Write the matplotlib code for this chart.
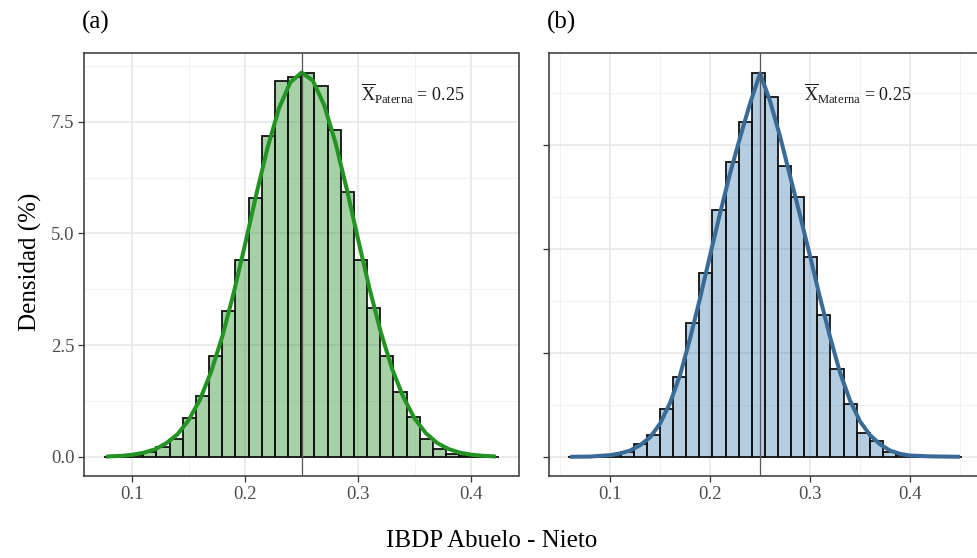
import numpy as np
import matplotlib
matplotlib.use("Agg")
import matplotlib.pyplot as plt
from matplotlib.ticker import MultipleLocator

plt.rcParams['font.family'] = ['Liberation Serif', 'DejaVu Serif']
plt.rcParams['mathtext.fontset'] = 'custom'
plt.rcParams['mathtext.rm'] = 'Liberation Serif'
plt.rcParams['mathtext.it'] = 'Liberation Serif:italic'

# ---------------- data ----------------
# Panel (a): paterna
a_bin_start = 0.0748
a_bin_width = 0.01166
a_hist = [0.00, 0.01, 0.03, 0.10, 0.21, 0.39, 0.86, 1.37, 2.25, 3.27,
          4.40, 5.79, 7.17, 8.41, 8.50, 8.58, 8.30, 7.31, 5.92, 4.40,
          3.33, 2.25, 1.44, 0.88, 0.39, 0.17, 0.06, 0.02, 0.01, 0.00]
a_kde_x = [0.077, 0.08, 0.09, 0.10, 0.11, 0.12, 0.13, 0.14, 0.15, 0.16, 0.17,
           0.18, 0.19, 0.20, 0.21, 0.22, 0.23, 0.24, 0.25, 0.26, 0.27, 0.28,
           0.29, 0.30, 0.31, 0.32, 0.33, 0.34, 0.35, 0.36, 0.37, 0.38, 0.39,
           0.40, 0.41, 0.42, 0.422]
a_kde_y = [0.00, 0.01, 0.02, 0.045, 0.09, 0.165, 0.30, 0.50, 0.82, 1.28, 1.91,
           2.71, 3.68, 4.76, 5.88, 6.93, 7.80, 8.38, 8.60, 8.42, 7.87, 7.03,
           5.99, 4.87, 3.78, 2.80, 1.98, 1.34, 0.86, 0.53, 0.31, 0.175, 0.094,
           0.048, 0.023, 0.01, 0.00]
a_mean = 0.25
a_label = 'Paterna'

# Panel (b): materna
b_bin_start = 0.058
b_bin_width = 0.01312
b_hist = [0.00, 0.00, 0.01, 0.04, 0.12, 0.31, 0.52, 1.15, 1.91, 3.21,
          4.43, 5.94, 7.10, 8.05, 9.24, 8.66, 7.00, 6.25, 4.80, 3.41,
          2.11, 1.27, 0.56, 0.385, 0.12, 0.05, 0.02, 0.01, 0.00, 0.00]
b_kde_x = [0.060, 0.08, 0.10, 0.11, 0.12, 0.13, 0.14, 0.15, 0.16, 0.17, 0.18,
           0.19, 0.20, 0.21, 0.22, 0.23, 0.24, 0.25, 0.26, 0.27, 0.28, 0.29,
           0.30, 0.31, 0.32, 0.33, 0.34, 0.35, 0.36, 0.37, 0.38, 0.39, 0.40,
           0.42, 0.45]
b_kde_y = [0.00, 0.005, 0.04, 0.08, 0.15, 0.28, 0.47, 0.80, 1.30, 1.97, 2.85,
           3.82, 4.85, 5.86, 6.82, 7.68, 8.50, 9.22, 8.55, 7.70, 6.75, 5.80,
           4.82, 3.82, 2.88, 2.02, 1.35, 0.85, 0.52, 0.30, 0.15, 0.07, 0.03,
           0.01, 0.00]
b_mean = 0.25
b_label = 'Materna'

x_ticks = [0.1, 0.2, 0.3, 0.4]
y_ticks = [0.0, 2.5, 5.0, 7.5]

# ---------------- figure ----------------
W, H = 978, 558
fig = plt.figure(figsize=(W / 100, H / 100), dpi=100)

def fx(px):
    return px / W

def fy(py):
    return 1 - py / H

ax_a = fig.add_axes([fx(84), fy(476), fx(518.5 - 84), fy(53.3) - fy(476)])
ax_b = fig.add_axes([fx(548.5), fy(476), fx(981.3 - 548.5), fy(53.3) - fy(476)])


def draw(ax, start, width, hist, kx, ky, mean, label, fill, line, show_ylabels):
    hist = np.asarray(hist)
    n = len(hist)
    lefts = start + width * np.arange(n)
    ax.bar(lefts, hist, width=width, align='edge', color=fill,
           edgecolor='#111111', linewidth=1.3, zorder=2)
    ax.plot(kx, ky, color=line, lw=2.9, zorder=3, solid_capstyle='butt',
            solid_joinstyle='round')
    ax.axvline(mean, color='#555555', lw=0.9, zorder=4)

    lo, hi = lefts[0], lefts[-1] + width
    pad = 0.05 * (hi - lo)
    ax.set_xlim(lo - pad, hi + pad)
    ymax = max(hist.max(), max(ky))
    ax.set_ylim(-0.05 * ymax, 1.05 * ymax)

    ax.set_xticks(x_ticks)
    ax.set_xticklabels([f'{v:.1f}' for v in x_ticks])
    ax.set_yticks(y_ticks)
    if show_ylabels:
        ax.set_yticklabels([f'{v:.1f}' for v in y_ticks])
    else:
        ax.set_yticklabels([])
    ax.xaxis.set_minor_locator(MultipleLocator(0.05))
    ax.yaxis.set_minor_locator(MultipleLocator(1.25))
    ax.grid(which='major', color='#E6E6E6', lw=1.1, zorder=0)
    ax.grid(which='minor', color='#F1F1F1', lw=0.6, zorder=0)
    ax.set_axisbelow(True)
    ax.tick_params(which='major', direction='out', length=4, width=0.9,
                   color='#333333', labelcolor='#4D4D4D', labelsize=13.5, pad=3)
    ax.tick_params(which='minor', length=0)
    for s in ax.spines.values():
        s.set_color('#333333')
        s.set_linewidth(1.1)

    txt = r'$\overline{\mathrm{X}}_{\mathrm{' + label + r'}}$ = ' + f'{mean:.2f}'
    ax.text(0.348, 0.945 * ymax, txt, ha='center', va='center',
            fontsize=13, color='#1a1a1a', zorder=5)


draw(ax_a, a_bin_start, a_bin_width, a_hist, a_kde_x, a_kde_y, a_mean,
     a_label, (0.133, 0.545, 0.133, 0.40), '#239423', True)
draw(ax_b, b_bin_start, b_bin_width, b_hist, b_kde_x, b_kde_y, b_mean,
     b_label, (0.275, 0.510, 0.706, 0.40), '#3A6B96', False)

fig.text(fx(82), fy(22), '(a)', fontsize=18, ha='left', va='center', color='black')
fig.text(fx(547), fy(22), '(b)', fontsize=18, ha='left', va='center', color='black')
fig.text(fx(492), fy(541), 'IBDP Abuelo - Nieto', fontsize=18, ha='center',
         va='center', color='black')
fig.text(fx(30), fy(262), 'Densidad (%)', fontsize=18, ha='center', va='center',
         rotation=90, color='black')

fig.savefig('out.png', dpi=100)
